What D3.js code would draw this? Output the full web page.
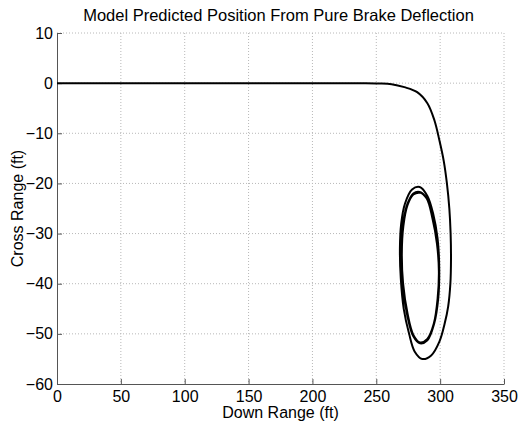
<!DOCTYPE html>
<html lang="en">
<head>
<meta charset="UTF-8">
<title>Model Predicted Position</title>
<style>
  body { margin: 0; background: #fff; }
  svg { font-family: "Liberation Sans", Arial, sans-serif; }
  .grid line { stroke: #b8b8b8; stroke-dasharray: 1,2; }
  .axis path, .axis line { stroke: #555; }
  .axis text { font-size: 16px; fill: #000; }
</style>
</head>
<body>
<svg width="519" height="429"></svg>
<script src="https://d3js.org/d3.v7.min.js"></script>
<script>
  // x ticks / y ticks
  var xTicks = [0, 50, 100, 150, 200, 250, 300, 350];
  var yTicks = [10, 0, -10, -20, -30, -40, -50, -60];

  // trajectory (down range, cross range) in ft
  var downRange = [0, 50, 100, 150, 200, 240, 252, 262, 272, 282, 290, 295.5, 299.5, 302.8, 305.3, 307.2, 308.2, 308.5, 308,
    306.3, 303.5, 299.5, 293, 286, 280, 275.7, 271.5, 269.2, 268.5, 269.5, 272.5, 278, 284,
    290, 294.5, 298, 299.3, 298.5, 295.3, 290, 284.2, 279, 274, 270.5, 269.5, 271, 274.5, 279, 284,
    289.5, 294, 297.5, 299, 298, 295, 290, 284.3, 279, 274.5, 271, 270, 271.2, 274.5, 279, 284,
    289.5, 294, 297.5, 299, 298, 295, 290, 284.3, 279, 274.5, 271, 270, 271.2, 274.5, 279, 284];
  var crossRange = [0, 0, 0, 0, 0, 0, -0.05, -0.2, -0.8, -1.8, -4, -7.4, -11.5, -15.5, -20, -25, -30, -35, -40,
    -44.5, -48, -51.5, -54.3, -55, -53.5, -50, -45, -39, -33, -28, -24, -21.2, -20.7,
    -22.5, -26, -31, -37, -43, -48, -51.3, -51.9, -50.5, -46, -40, -33.5, -28, -24, -22, -21.7,
    -23, -27, -32, -37.5, -43, -48, -51, -51.7, -50.2, -46, -40, -34, -28.5, -24.3, -22.2, -21.8,
    -23, -27, -32, -37.5, -43, -48, -51, -51.7, -50.2, -46, -40, -34, -28.5, -24.3, -22.2, -21.8];

  var svg = d3.select("svg"),
      margin = {top: 33, right: 15, bottom: 45, left: 57},
      width = 519 - margin.left - margin.right,
      height = 429 - margin.top - margin.bottom;

  var g = svg.append("g").attr("transform", "translate(" + margin.left + "," + margin.top + ")");

  var x = d3.scaleLinear().domain([0, 350]).range([0, width]);
  var y = d3.scaleLinear().domain([-60, 10]).range([height, 0]);

  // grid
  g.append("g").attr("class", "grid")
    .selectAll("line").data(xTicks.slice(1)).enter().append("line")
      .attr("x1", d => x(d)).attr("x2", d => x(d))
      .attr("y1", 0).attr("y2", height);
  g.append("g").attr("class", "grid")
    .selectAll("line").data(yTicks.slice(0, -1)).enter().append("line")
      .attr("x1", 0).attr("x2", width)
      .attr("y1", d => y(d)).attr("y2", d => y(d));

  // axes, ticks pointing inward
  g.append("g").attr("class", "axis")
    .attr("transform", "translate(0," + height + ")")
    .call(d3.axisBottom(x).tickValues(xTicks).tickSizeInner(-5).tickSizeOuter(0).tickPadding(7));
  g.append("g").attr("class", "axis")
    .call(d3.axisLeft(y).tickValues(yTicks).tickSizeInner(-5).tickSizeOuter(0).tickPadding(4));
  svg.selectAll(".axis text").attr("font-family", "Liberation Sans, Arial, sans-serif");

  // trajectory
  var pts = downRange.map((d, i) => [d, crossRange[i]]);
  var line = d3.line()
    .x(d => x(d[0]))
    .y(d => y(d[1]))
    .curve(d3.curveCatmullRom.alpha(0.5));
  g.append("path")
    .datum(pts)
    .attr("fill", "none")
    .attr("stroke", "#000")
    .attr("stroke-width", 2)
    .attr("d", line);

  // titles
  svg.append("text")
    .attr("x", margin.left + width / 2 - 2).attr("y", 21)
    .attr("text-anchor", "middle").style("font-size", "16.5px")
    .text("Model Predicted Position From Pure Brake Deflection");
  svg.append("text")
    .attr("x", margin.left + width / 2).attr("y", 418)
    .attr("text-anchor", "middle").style("font-size", "16px")
    .text("Down Range (ft)");
  svg.append("text")
    .attr("transform", "translate(23," + (margin.top + height / 2) + ") rotate(-90)")
    .attr("text-anchor", "middle").style("font-size", "16px")
    .text("Cross Range (ft)");
</script>
</body>
</html>
